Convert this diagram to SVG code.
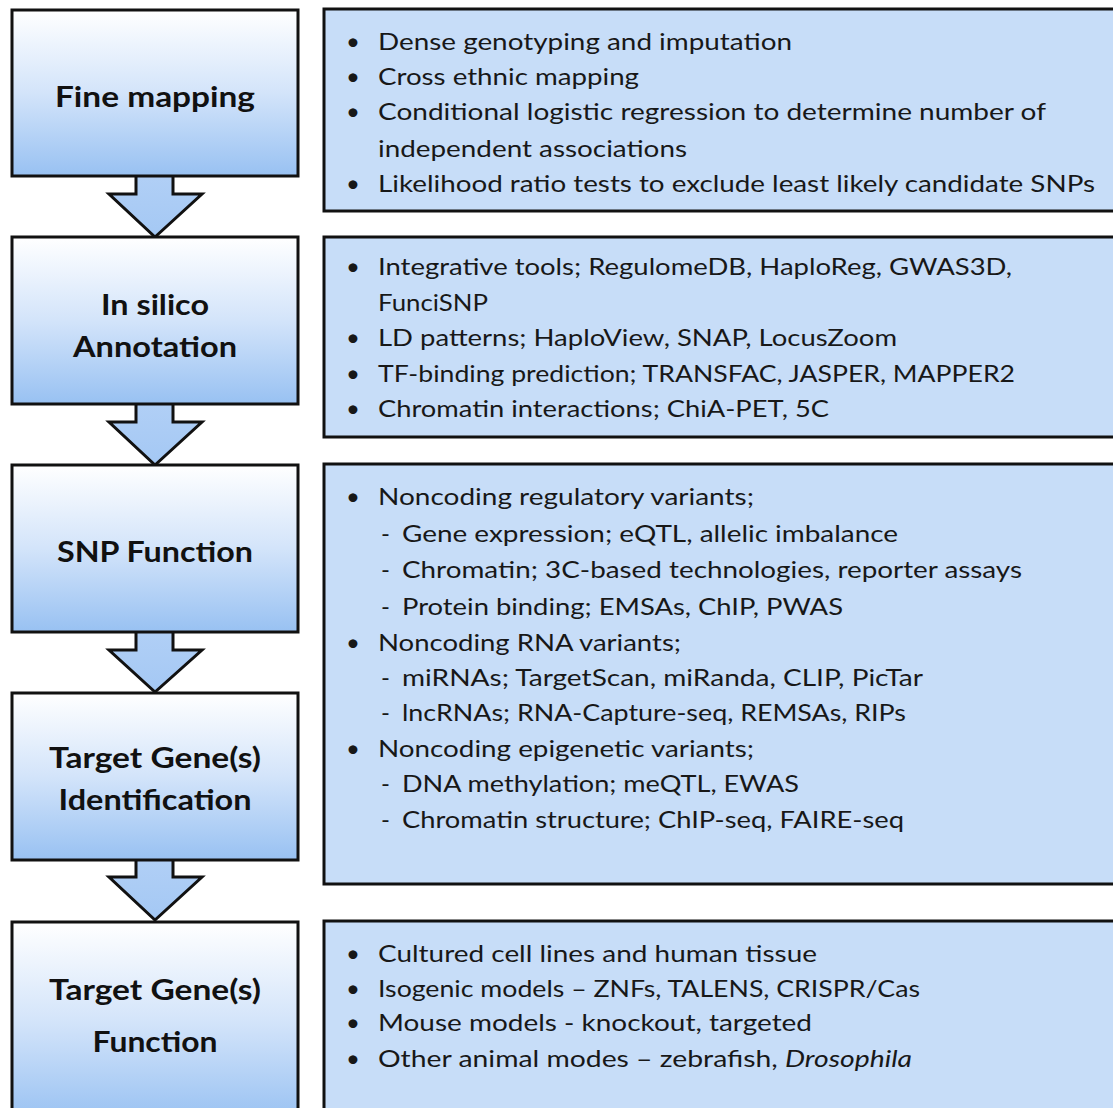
<svg xmlns="http://www.w3.org/2000/svg" width="1113" height="1108" viewBox="0 0 1113 1108">
<defs>
<linearGradient id="lg" x1="0" y1="0" x2="0" y2="1">
<stop offset="0" stop-color="#ffffff"/>
<stop offset="0.5" stop-color="#d3e4fa"/>
<stop offset="1" stop-color="#98c1f2"/>
</linearGradient>
<linearGradient id="ag" x1="0" y1="0" x2="0" y2="1">
<stop offset="0" stop-color="#b2d0f6"/>
<stop offset="1" stop-color="#a4c8f4"/>
</linearGradient>
</defs>
<style>
.lb{fill:url(#lg);stroke:#111;stroke-width:3}
.rb{fill:#c7ddf8;stroke:#111;stroke-width:3}
.ar{fill:url(#ag);stroke:#111;stroke-width:3;stroke-linejoin:miter}
.t{font-family:Lato,"Open Sans","Liberation Sans",sans-serif;font-size:24px;fill:#181818}
.h{font-family:Lato,"Open Sans","Liberation Sans",sans-serif;font-size:28px;font-weight:bold;fill:#111;text-anchor:middle}
</style>
<rect width="1113" height="1108" fill="#ffffff"/>
<g id="connectors">
<polygon class="ar" points="136,170 173,170 173,194 202,194 155,237 109,194 136,194"/>
<polygon class="ar" points="136,398 173,398 173,422 202,422 155,465 109,422 136,422"/>
<polygon class="ar" points="136,626 173,626 173,650 202,650 155,692 109,650 136,650"/>
<polygon class="ar" points="136,854 173,854 173,877 202,877 155,920 109,877 136,877"/>
</g>
<g id="n1"><rect class="lb" x="12" y="10" width="286" height="166"/><text class="h" x="155" y="107" textLength="200" lengthAdjust="spacingAndGlyphs">Fine mapping</text></g>
<g id="n2"><rect class="lb" x="12" y="237" width="286" height="167"/><text class="h" x="155" y="315" textLength="108" lengthAdjust="spacingAndGlyphs">In silico</text><text class="h" x="155" y="357" textLength="164" lengthAdjust="spacingAndGlyphs">Annotation</text></g>
<g id="n3"><rect class="lb" x="12" y="465" width="286" height="167"/><text class="h" x="155" y="562" textLength="196" lengthAdjust="spacingAndGlyphs">SNP Function</text></g>
<g id="n4"><rect class="lb" x="12" y="693" width="286" height="167"/><text class="h" x="155" y="768" textLength="212" lengthAdjust="spacingAndGlyphs">Target Gene(s)</text><text class="h" x="155" y="810" textLength="193" lengthAdjust="spacingAndGlyphs">Identification</text></g>
<g id="n5"><rect class="lb" x="12" y="922" width="286" height="200"/><text class="h" x="155" y="1000" textLength="212" lengthAdjust="spacingAndGlyphs">Target Gene(s)</text><text class="h" x="155" y="1052" textLength="125" lengthAdjust="spacingAndGlyphs">Function</text></g>
<g id="d1"><rect class="rb" x="324" y="9" width="800" height="202"/>
<text class="t" x="346" y="50">•</text><text class="t" x="378" y="50" textLength="414" lengthAdjust="spacingAndGlyphs">Dense genotyping and imputation</text>
<text class="t" x="346" y="85">•</text><text class="t" x="378" y="85" textLength="261" lengthAdjust="spacingAndGlyphs">Cross ethnic mapping</text>
<text class="t" x="346" y="120">•</text><text class="t" x="378" y="120" textLength="668" lengthAdjust="spacingAndGlyphs">Conditional logistic regression to determine number of</text>
<text class="t" x="378" y="157" textLength="309" lengthAdjust="spacingAndGlyphs">independent associations</text>
<text class="t" x="346" y="192">•</text><text class="t" x="378" y="192" textLength="717" lengthAdjust="spacingAndGlyphs">Likelihood ratio tests to exclude least likely candidate SNPs</text>
</g>
<g id="d2"><rect class="rb" x="324" y="237" width="800" height="200"/>
<text class="t" x="346" y="275">•</text><text class="t" x="378" y="275" textLength="634" lengthAdjust="spacingAndGlyphs">Integrative tools; RegulomeDB, HaploReg, GWAS3D,</text>
<text class="t" x="378" y="311" textLength="110" lengthAdjust="spacingAndGlyphs">FunciSNP</text>
<text class="t" x="346" y="346">•</text><text class="t" x="378" y="346" textLength="519" lengthAdjust="spacingAndGlyphs">LD patterns; HaploView, SNAP, LocusZoom</text>
<text class="t" x="346" y="382">•</text><text class="t" x="378" y="382" textLength="637" lengthAdjust="spacingAndGlyphs">TF-binding prediction; TRANSFAC, JASPER, MAPPER2</text>
<text class="t" x="346" y="417">•</text><text class="t" x="378" y="417" textLength="451" lengthAdjust="spacingAndGlyphs">Chromatin interactions; ChiA-PET, 5C</text>
</g>
<g id="d3"><rect class="rb" x="324" y="464" width="800" height="420"/>
<text class="t" x="346" y="505">•</text><text class="t" x="378" y="505" textLength="376" lengthAdjust="spacingAndGlyphs">Noncoding regulatory variants;</text>
<text class="t" x="381" y="542">-</text><text class="t" x="402" y="542" textLength="496" lengthAdjust="spacingAndGlyphs">Gene expression; eQTL, allelic imbalance</text>
<text class="t" x="381" y="578">-</text><text class="t" x="402" y="578" textLength="620" lengthAdjust="spacingAndGlyphs">Chromatin; 3C-based technologies, reporter assays</text>
<text class="t" x="381" y="615">-</text><text class="t" x="402" y="615" textLength="441" lengthAdjust="spacingAndGlyphs">Protein binding; EMSAs, ChIP, PWAS</text>
<text class="t" x="346" y="651">•</text><text class="t" x="378" y="651" textLength="303" lengthAdjust="spacingAndGlyphs">Noncoding RNA variants;</text>
<text class="t" x="381" y="686">-</text><text class="t" x="402" y="686" textLength="521" lengthAdjust="spacingAndGlyphs">miRNAs; TargetScan, miRanda, CLIP, PicTar</text>
<text class="t" x="381" y="721">-</text><text class="t" x="402" y="721" textLength="504" lengthAdjust="spacingAndGlyphs">lncRNAs; RNA-Capture-seq, REMSAs, RIPs</text>
<text class="t" x="346" y="757">•</text><text class="t" x="378" y="757" textLength="376" lengthAdjust="spacingAndGlyphs">Noncoding epigenetic variants;</text>
<text class="t" x="381" y="792">-</text><text class="t" x="402" y="792" textLength="397" lengthAdjust="spacingAndGlyphs">DNA methylation; meQTL, EWAS</text>
<text class="t" x="381" y="828">-</text><text class="t" x="402" y="828" textLength="502" lengthAdjust="spacingAndGlyphs">Chromatin structure; ChIP-seq, FAIRE-seq</text>
</g>
<g id="d4"><rect class="rb" x="324" y="921" width="800" height="200"/>
<text class="t" x="346" y="962">•</text><text class="t" x="378" y="962" textLength="439" lengthAdjust="spacingAndGlyphs">Cultured cell lines and human tissue</text>
<text class="t" x="346" y="997">•</text><text class="t" x="378" y="997" textLength="542" lengthAdjust="spacingAndGlyphs">Isogenic models – ZNFs, TALENS, CRISPR/Cas</text>
<text class="t" x="346" y="1031">•</text><text class="t" x="378" y="1031" textLength="434" lengthAdjust="spacingAndGlyphs">Mouse models - knockout, targeted</text>
<text class="t" x="346" y="1067">•</text><text class="t" x="378" y="1067" textLength="534" lengthAdjust="spacingAndGlyphs">Other animal modes – zebrafish, <tspan font-style="italic">Drosophila</tspan></text>
</g>
</svg>
